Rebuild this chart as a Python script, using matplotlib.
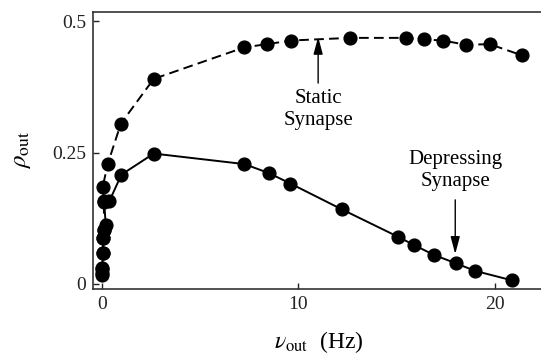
import matplotlib.pyplot as plt
import numpy as np

plt.rcParams['font.family'] = ['Liberation Serif', 'DejaVu Serif']
plt.rcParams['mathtext.fontset'] = 'stix'

# output rate (Hz) and rho_out, static synapse
static_nu = [0.02, 0.03, 0.05, 0.07, 0.09, 0.12, 0.05, 0.30, 0.97, 2.64, 7.25, 8.39,
             9.63, 12.6, 15.47, 16.4, 17.34, 18.5, 19.73, 21.34]
static_rho = [0.020, 0.030, 0.058, 0.088, 0.103, 0.155, 0.185, 0.228, 0.305, 0.390,
              0.450, 0.456, 0.463, 0.468, 0.468, 0.465, 0.463, 0.455, 0.456, 0.435]

# depressing synapse
dep_nu = [0.02, 0.03, 0.05, 0.07, 0.09, 0.20, 0.12, 0.39, 1.0, 2.64, 7.25, 8.49,
          9.59, 12.2, 15.05, 15.88, 16.9, 18.03, 18.97, 20.85]
dep_rho = [0.018, 0.028, 0.058, 0.087, 0.103, 0.112, 0.158, 0.158, 0.208, 0.248,
           0.228, 0.211, 0.191, 0.142, 0.090, 0.074, 0.055, 0.039, 0.025, 0.007]

fig = plt.figure(figsize=(5.41, 3.56), dpi=100)
ax = fig.add_axes([0.1725, 0.189, 0.8275, 0.778])

ax.plot(static_nu, static_rho, color='k', lw=1.4, dashes=(5, 2.7),
        marker='o', ms=9.2, zorder=3)
ax.plot(dep_nu, dep_rho, color='k', lw=1.4, marker='o', ms=9.2, zorder=3)

# labels on the curves
arrow = dict(arrowstyle='-|>,head_length=0.75,head_width=0.2', color='k',
             lw=1.0, mutation_scale=14, shrinkA=0, shrinkB=0)
ax.text(11.0, 0.332, 'Static\nSynapse', ha='center', va='center', fontsize=15,
        linespacing=1.25)
ax.annotate('', xy=(11.0, 0.470), xytext=(11.0, 0.382), arrowprops=arrow)
ax.text(17.97, 0.216, 'Depressing\nSynapse', ha='center', va='center',
        fontsize=15, linespacing=1.25)
ax.annotate('', xy=(17.97, 0.057), xytext=(17.97, 0.160), arrowprops=arrow)

ax.set_xlim(-0.43, 22.33)
ax.set_ylim(-0.009, 0.5177)
ax.set_xticks([0, 10, 20])
ax.set_yticks([0, 0.25, 0.5])
ax.set_yticklabels(['0', '0.25', '0.5'])
ax.tick_params(direction='in', length=4, width=1, labelsize=14, pad=5,
               colors='#222222')
ax.spines['right'].set_visible(False)
for s in ['left', 'bottom', 'top']:
    ax.spines[s].set_linewidth(1.2)
    ax.spines[s].set_color('#333333')

fig.text(0.04, 0.58, r'$\rho_{\rm out}$', rotation=90, ha='center',
         va='center', fontsize=18)
fig.text(0.59, 0.038, r'$\nu_{\rm out}$  (Hz)', ha='center', va='center',
         fontsize=17)

fig.savefig('out.png', dpi=100)
